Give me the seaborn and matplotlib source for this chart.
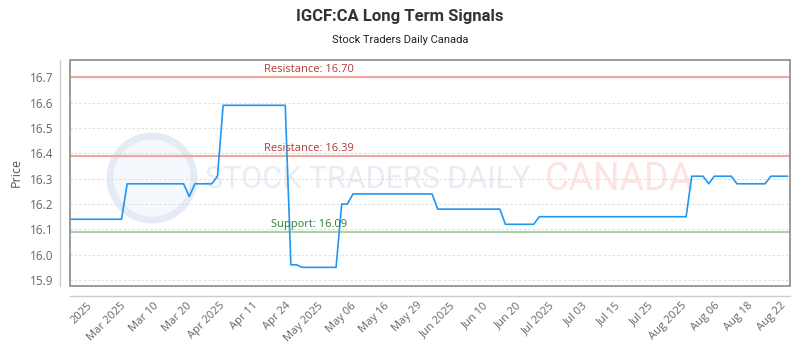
import numpy as np
import pandas as pd
import matplotlib
matplotlib.use("Agg")
import matplotlib.pyplot as plt
import seaborn as sns
from matplotlib.patches import Rectangle, Ellipse

# ---------------- data ----------------
prices = [
    16.14, 16.14, 16.14, 16.14, 16.14, 16.14, 16.14, 16.14, 16.14, 16.14,
    16.28, 16.28, 16.28, 16.28, 16.28, 16.28, 16.28, 16.28, 16.28, 16.28, 16.28,
    16.23,
    16.28, 16.28, 16.28, 16.28,
    16.31,
    16.59, 16.59, 16.59, 16.59, 16.59, 16.59, 16.59, 16.59, 16.59, 16.59, 16.59, 16.59,
    15.96, 15.96,
    15.95, 15.95, 15.95, 15.95, 15.95, 15.95, 15.95,
    16.20, 16.20,
    16.24, 16.24, 16.24, 16.24, 16.24, 16.24, 16.24, 16.24, 16.24, 16.24, 16.24, 16.24, 16.24, 16.24, 16.24,
    16.18, 16.18, 16.18, 16.18, 16.18, 16.18, 16.18, 16.18, 16.18, 16.18, 16.18, 16.18,
    16.12, 16.12, 16.12, 16.12, 16.12, 16.12,
    16.15, 16.15, 16.15, 16.15, 16.15, 16.15, 16.15, 16.15, 16.15, 16.15,
    16.15, 16.15, 16.15, 16.15, 16.15, 16.15, 16.15, 16.15, 16.15, 16.15,
    16.15, 16.15, 16.15, 16.15, 16.15, 16.15, 16.15,
    16.31, 16.31, 16.31,
    16.28,
    16.31, 16.31, 16.31, 16.31,
    16.28, 16.28, 16.28, 16.28, 16.28, 16.28,
    16.31, 16.31, 16.31, 16.31,
]

tick_labels = [
    "2025", "Mar 2025", "Mar 10", "Mar 20", "Apr 2025", "Apr 11", "Apr 24",
    "May 2025", "May 06", "May 16", "May 29", "Jun 2025", "Jun 10", "Jun 20",
    "Jul 2025", "Jul 03", "Jul 15", "Jul 25", "Aug 2025", "Aug 06", "Aug 18",
    "Aug 22",
]

resistance_levels = [16.70, 16.39]
support_levels = [16.09]

y_ticks = [15.9, 16.0, 16.1, 16.2, 16.3, 16.4, 16.5, 16.6, 16.7]

title = "IGCF:CA Long Term Signals"
subtitle = "Stock Traders Daily Canada"

# ---------------- style ----------------
sns.set_theme(style="white")
plt.rcParams["font.family"] = ["Open Sans", "DejaVu Sans"]

W, H = 800, 350
fig = plt.figure(figsize=(8, 3.5), dpi=100)
fig.patch.set_facecolor("white")

ax_l, ax_r, ax_t, ax_b = 70.3, 790.0, 59.5, 285.7
ax = fig.add_axes([ax_l / W, 1 - ax_b / H, (ax_r - ax_l) / W, (ax_b - ax_t) / H])
ax.set_facecolor("white")

# spines first (moving a spine resets the ticks)
for side in ["top", "right"]:
    ax.spines[side].set_visible(False)
for side in ["left", "bottom"]:
    ax.spines[side].set_position(("outward", 7.2))
    ax.spines[side].set_color("#cccccc")
    ax.spines[side].set_linewidth(1.0)

# watermark (behind everything)
wm_font = ["Roboto", "DejaVu Sans"]
logo = Ellipse((152 / W, 1 - 178 / H), 84 / W, 84 / H, transform=fig.transFigure,
               facecolor="#f5f8fc", edgecolor="#e4ebf4", lw=5, zorder=0)
ax.add_patch(logo)
ax.text(205 / W, 1 - 179 / H, "STOCK TRADERS DAILY", transform=fig.transFigure,
        fontsize=22, family=wm_font, color="#e8edf4", ha="left", va="center", zorder=0)
ax.text(545 / W, 1 - 179 / H, "CANADA", transform=fig.transFigure,
        fontsize=27, family=wm_font, color="#fde4e2", ha="left", va="center", zorder=0)

df = pd.DataFrame({"idx": np.arange(len(prices)), "price": prices})
sns.lineplot(data=df, x="idx", y="price", ax=ax, color="#2196f3",
             linewidth=1.2, zorder=5)

for lvl in resistance_levels:
    ax.axhline(lvl, color="#f2a49d", lw=1.5, zorder=3)
    ax.annotate(f"Resistance: {lvl:.2f}", xy=(0.3314, lvl),
                xycoords=("axes fraction", "data"), xytext=(0, 1.5),
                textcoords="offset points", ha="center", va="bottom",
                fontsize=8, color="#b23a32", zorder=6)
for lvl in support_levels:
    ax.axhline(lvl, color="#a9d3a4", lw=1.5, zorder=3)
    ax.annotate(f"Support: {lvl:.2f}", xy=(0.3314, lvl),
                xycoords=("axes fraction", "data"), xytext=(0, 1.5),
                textcoords="offset points", ha="center", va="bottom",
                fontsize=8, color="#2e7d32", zorder=6)

# axes limits & ticks
n = len(prices)
ax.set_xlim(-0.07, n - 1 + 0.4)
ax.set_ylim(15.8775, 16.771)
ax.tick_params(axis="x", length=0, pad=6, labelsize=8, colors="#666666",
               labelrotation=45)
ax.tick_params(axis="y", length=0, pad=5, labelsize=8.5, colors="#666666")
ax.set_yticks(y_ticks)
ax.set_yticklabels([f"{v:.1f}" for v in y_ticks])
tick_pos = np.linspace(3.6, 126.3, len(tick_labels))
ax.set_xticks(tick_pos)
ax.set_xticklabels(tick_labels, rotation=45, ha="right", va="center",
                   rotation_mode="anchor")
ax.set_xlabel("")
ax.set_ylabel("")

ax.yaxis.grid(True, linestyle=(0, (2, 2)), color="#dddddd", lw=0.8, zorder=1)
ax.xaxis.grid(False)

ax.add_patch(Rectangle((0, 0), 1, 1, transform=ax.transAxes, fill=False,
                       edgecolor="#8a8a8a", lw=1.2, zorder=7, clip_on=False))

fig.text(400 / W, 1 - 16 / H, title, ha="center", va="center",
         fontsize=12, fontweight="bold", family=["Roboto", "DejaVu Sans"],
         color="#333333")
fig.text(400 / W, 1 - 40 / H, subtitle, ha="center", va="center",
         fontsize=8, family=["Roboto", "DejaVu Sans"], color="#222222")
fig.text(16 / W, 1 - 172 / H, "Price", ha="center", va="center", rotation=90,
         fontsize=9, color="#555555")

fig.savefig("out.png", dpi=100, facecolor="white")
